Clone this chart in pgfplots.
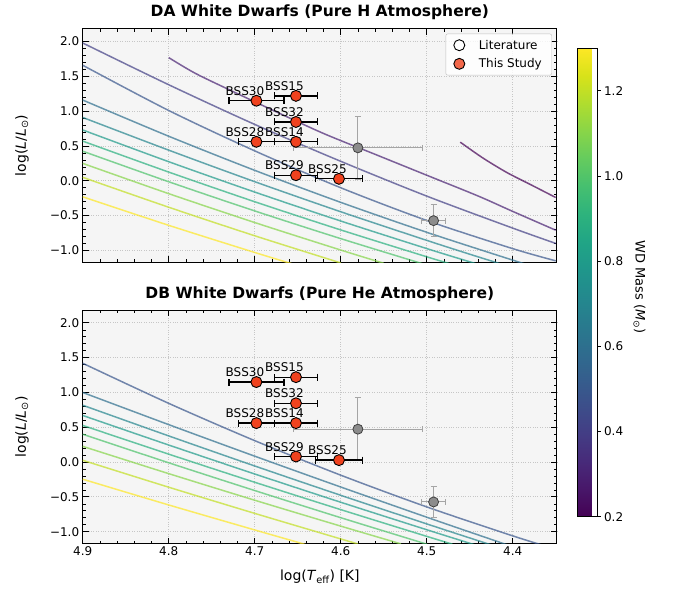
\documentclass[border=0pt]{standalone}
\usepackage{fontspec}
\setmainfont{DejaVu Sans}
\usepackage{pgfplots}
\usepackage{pgfplotstable}
\pgfplotsset{compat=1.18}

\definecolor{bgc}{RGB}{245,245,245}
\definecolor{bssred}{RGB}{240,66,30}
\definecolor{litgray}{RGB}{140,140,140}
\definecolor{errgray}{RGB}{165,165,165}
\definecolor{m02}{HTML}{440154}
\definecolor{m03}{HTML}{482172}
\definecolor{m04}{HTML}{423F85}
\definecolor{m05}{HTML}{39568C}
\definecolor{m06}{HTML}{2E6F8E}
\definecolor{m07}{HTML}{25858E}
\definecolor{m08}{HTML}{1F9A8A}
\definecolor{m09}{HTML}{2AB07F}
\definecolor{m10}{HTML}{4EC36B}
\definecolor{m11}{HTML}{86D549}
\definecolor{m12}{HTML}{C2DF23}
\definecolor{m13}{HTML}{FDE725}

\pgfplotstableread{
x y ex name
4.698 1.150 0.032 BSS30
4.652 1.220 0.025 BSS15
4.652 0.845 0.025 BSS32
4.698 0.560 0.021 BSS28
4.652 0.560 0.025 BSS14
4.652 0.080 0.025 BSS29
4.602 0.028 0.027 BSS25
}\bss
\pgfplotstableread{
x y ex ey
4.580 0.473 0.075 0.455
4.492 -0.573 0.014 0.226
}\lit

\pgfplotsset{
  trk/.style={no marks, line width=1.5pt, opacity=0.7, smooth, forget plot},
  wdaxis/.style={
    scale only axis, width=474.3pt, height=233.5pt,
    x dir=reverse, xmin=4.3485, xmax=4.9, ymin=-1.17, ymax=2.185,
    axis background/.style={fill=bgc},
    tick align=inside, tick pos=both,
    xtick={4.4,4.5,4.6,4.7,4.8,4.9},
    ytick={-1,-0.5,0,0.5,1,1.5,2},
    yticklabels={−1.0,−0.5,0.0,0.5,1.0,1.5,2.0},
    minor x tick num=4, minor y tick num=4,
    major tick length=6pt, minor tick length=3pt,
    major tick style={black, line width=0.9pt},
    minor tick style={black, line width=0.6pt},
    axis line style={line width=1pt},
    grid=major, major grid style={dotted, gray!45, line width=0.8pt},
    ticklabel style={font=\fontsize{12}{14}\selectfont},
    title style={font=\bfseries\fontsize{15.5}{18}\selectfont, yshift=-1pt},
    ylabel={log(\textit{L}/\textit{L}\textsubscript{⊙})},
    ylabel style={font=\fontsize{14}{16}\selectfont, at={(axis description cs:-0.128,0.5)}, anchor=center},
    clip mode=individual,
  },
  litplot/.style={only marks, mark=*, mark size=5pt, forget plot,
    mark options={fill=litgray, draw=black!75, line width=0.8pt},
    error bars/.cd, x dir=both, x explicit, y dir=both, y explicit,
    error bar style={errgray, line width=1pt},
    error mark options={rotate=90, errgray, line width=1pt, mark size=3pt}},
  bssplot/.style={only marks, mark=*, mark size=5.5pt, forget plot,
    mark options={fill=bssred, draw=black, line width=0.9pt},
    nodes near coords, point meta=explicit symbolic,
    every node near coord/.append style={anchor=base east, xshift=11.5pt, yshift=5.5pt, font=\fontsize{12}{14}\selectfont, text=black},
    error bars/.cd, x dir=both, x explicit,
    error bar style={black, line width=1.3pt},
    error mark options={rotate=90, black, line width=1.3pt, mark size=3.5pt}},
}

\begin{document}
\begin{tikzpicture}
\useasboundingbox (0,0) rectangle (673pt,-589pt);

% ---------------- DA panel ----------------
\begin{axis}[wdaxis,
  at={(82.7pt,-28.7pt)}, anchor=north west,
  title={DA White Dwarfs (Pure H Atmosphere)},
  xticklabels={,,,,,},
  legend style={at={(1,1)}, anchor=north east, xshift=-5pt, yshift=-5pt,
    draw=gray!50, rounded corners=2pt, fill=white, fill opacity=0.8, text opacity=1,
    font=\fontsize{12}{14}\selectfont, row sep=4pt, inner xsep=8pt, inner ysep=4pt,
    /tikz/every odd column/.style={column sep=12pt}},
  legend cell align=left,
  colormap/viridis, point meta min=0.2, point meta max=1.3,
  colorbar,
  colorbar style={at={(parent axis.north east)}, anchor=north west,
    xshift=12.2pt, yshift=-19.6pt, scale only axis, width=19.3pt, height=468.4pt,
    ymin=0.2, ymax=1.3, ytick={0.2,0.4,0.6,0.8,1.0,1.2},
    yticklabels={0.2,0.4,0.6,0.8,1.0,1.2},
    yticklabel pos=right, ytick pos=right, xtick=\empty,
    tick align=outside, major tick length=3.5pt, minor y tick num=0,
    major tick style={black, line width=0.8pt},
    axis line style={line width=0.9pt},
    ticklabel style={font=\fontsize{12}{14}\selectfont},
    ylabel={WD Mass (\textit{M}\textsubscript{⊙})},
    ylabel style={font=\fontsize{13}{15}\selectfont, at={(axis description cs:3.2,0.49)}, anchor=center, rotate=180}},
]
\addlegendimage{only marks, mark=*, mark size=5.5pt, mark options={fill=white, draw=black, line width=0.9pt}}
\addlegendentry{Literature}
\addlegendimage{only marks, mark=*, mark size=5.5pt, mark options={fill=bssred, draw=black, line width=0.9pt}}
\addlegendentry{This Study}

\addplot[trk, m02] coordinates {(4.461,0.555) (4.435,0.33) (4.407,0.12) (4.38,-0.05) (4.35,-0.24)};
\addplot[trk, m03] coordinates {(4.80,1.77) (4.77,1.55) (4.73,1.31) (4.68,1.02) (4.62,0.68) (4.56,0.38) (4.50,0.08) (4.44,-0.22) (4.40,-0.44) (4.35,-0.71)};
\addplot[trk, m04] coordinates {(4.9,1.98) (4.8,1.38) (4.7,0.81) (4.6,0.28) (4.5,-0.22) (4.4,-0.68) (4.35,-0.90)};
\addplot[trk, m05] coordinates {(4.9,1.66) (4.8,1.01) (4.7,0.43) (4.6,-0.10) (4.5,-0.57) (4.4,-0.975) (4.35,-1.15)};
\addplot[trk, m06] coordinates {(4.9,1.16) (4.8,0.64) (4.7,0.15) (4.6,-0.31) (4.5,-0.74) (4.4,-1.14) (4.38,-1.216)};
\addplot[trk, m07] coordinates {(4.9,0.91) (4.8,0.44) (4.7,-0.013) (4.6,-0.445) (4.5,-0.856) (4.45,-1.055) (4.4,-1.248)};
\addplot[trk, m08] coordinates {(4.9,0.73) (4.8,0.274) (4.7,-0.162) (4.6,-0.578) (4.5,-0.974) (4.45,-1.164) (4.43,-1.239)};
\addplot[trk, m09] coordinates {(4.9,0.57) (4.8,0.125) (4.7,-0.301) (4.6,-0.706) (4.5,-1.092) (4.47,-1.203)};
\addplot[trk, m10] coordinates {(4.9,0.425) (4.8,-0.014) (4.7,-0.433) (4.6,-0.831) (4.5,-1.21)};
\addplot[trk, m11] coordinates {(4.9,0.25) (4.8,-0.185) (4.7,-0.60) (4.6,-0.995) (4.55,-1.185)};
\addplot[trk, m12] coordinates {(4.9,0.05) (4.8,-0.38) (4.7,-0.79) (4.6,-1.18)};
\addplot[trk, m13] coordinates {(4.9,-0.23) (4.8,-0.64) (4.7,-1.03) (4.65,-1.2175)};

\addplot[litplot] table[x=x, y=y, x error=ex, y error=ey]{\lit};
\addplot[bssplot] table[x=x, y=y, x error=ex, meta=name]{\bss};
\end{axis}

% ---------------- DB panel ----------------
\begin{axis}[wdaxis,
  at={(82.7pt,-310pt)}, anchor=north west,
  title={DB White Dwarfs (Pure He Atmosphere)},
  xticklabels={4.4,4.5,4.6,4.7,4.8,4.9},
  xlabel={log(\textit{T}\textsubscript{eff}) [K]},
  xlabel style={font=\fontsize{14}{16}\selectfont, at={(axis description cs:0.5,-0.144)}, anchor=center},
]
\addplot[trk, m05] coordinates {(4.9,1.42) (4.8,0.844) (4.7,0.308) (4.6,-0.188) (4.5,-0.644) (4.4,-1.06) (4.35,-1.252)};
\addplot[trk, m06] coordinates {(4.9,1.0) (4.8,0.538) (4.7,0.085) (4.6,-0.358) (4.5,-0.792) (4.45,-1.005) (4.4,-1.216)};
\addplot[trk, m07] coordinates {(4.9,0.817) (4.8,0.376) (4.7,-0.056) (4.6,-0.477) (4.5,-0.888) (4.45,-1.09) (4.4,-1.29)};
\addplot[trk, m08] coordinates {(4.9,0.67) (4.8,0.245) (4.7,-0.171) (4.6,-0.577) (4.5,-0.972) (4.45,-1.166) (4.43,-1.243)};
\addplot[trk, m09] coordinates {(4.9,0.527) (4.8,0.114) (4.7,-0.29) (4.6,-0.683) (4.5,-1.067) (4.47,-1.18)};
\addplot[trk, m10] coordinates {(4.9,0.40) (4.8,-0.01) (4.7,-0.409) (4.6,-0.799) (4.5,-1.179)};
\addplot[trk, m11] coordinates {(4.9,0.226) (4.8,-0.166) (4.7,-0.548) (4.6,-0.92) (4.53,-1.175)};
\addplot[trk, m12] coordinates {(4.9,0.026) (4.8,-0.361) (4.7,-0.737) (4.6,-1.104) (4.58,-1.176)};
\addplot[trk, m13] coordinates {(4.9,-0.246) (4.8,-0.616) (4.7,-0.975) (4.65,-1.152) (4.64,-1.19)};

\addplot[litplot] table[x=x, y=y, x error=ex, y error=ey]{\lit};
\addplot[bssplot] table[x=x, y=y, x error=ex, meta=name]{\bss};
\end{axis}
\end{tikzpicture}
\end{document}
